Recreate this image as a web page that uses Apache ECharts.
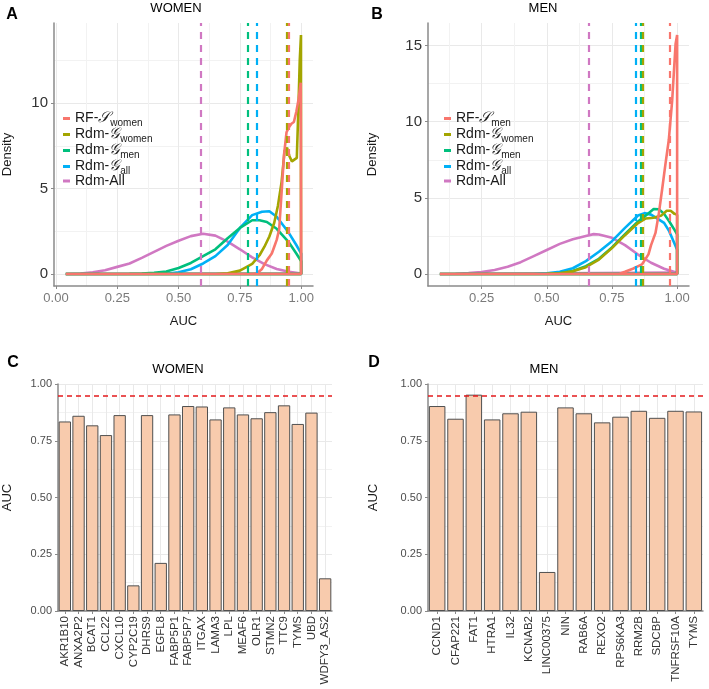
<!DOCTYPE html>
<html><head><meta charset="utf-8">
<script src="https://cdn.jsdelivr.net/npm/echarts@6/dist/echarts.min.js"></script>
<style>html,body{margin:0;padding:0;background:#fff}#c{width:709px;height:689px}</style>
</head><body><div id="c"></div>
<script>
// ---------- Panel A (WOMEN) density curves ----------
const womenRF_x  = [0.04,0.80,0.82,0.84,0.86,0.88,0.89,0.90,0.91,0.92,0.93,0.94,0.95,0.96,0.97,0.98,0.99,0.998,1.0];
const womenRF_y  = [0,0,0.05,0.3,0.8,1.2,1.6,2.0,2.6,4.8,7.0,8.3,8.6,8.8,8.9,9.5,10.3,11.2,11.2];
const womenGw_x  = [0.04,0.65,0.70,0.75,0.80,0.83,0.85,0.87,0.89,0.905,0.92,0.932,0.942,0.952,0.962,0.972,0.982,0.988,0.994,0.999];
const womenGw_y  = [0,0,0.05,0.2,0.6,1.1,1.6,2.2,3.0,4.0,5.4,7.2,7.4,6.9,6.6,6.7,6.8,9.5,12.5,14.0];
const womenGm_x  = [0.04,0.30,0.35,0.40,0.45,0.50,0.55,0.60,0.65,0.70,0.75,0.80,0.83,0.86,0.90,0.95,0.98,1.0];
const womenGm_y  = [0,0.01,0.03,0.07,0.15,0.35,0.65,1.05,1.45,2.1,2.7,3.15,3.15,3.05,2.65,1.85,1.2,0.75];
const womenGa_x  = [0.04,0.40,0.45,0.50,0.55,0.60,0.65,0.70,0.75,0.80,0.84,0.87,0.90,0.95,0.98,1.0];
const womenGa_y  = [0,0,0.02,0.1,0.28,0.62,1.05,1.7,2.7,3.45,3.65,3.68,3.35,2.4,1.7,1.2];
const womenAll_x = [0.04,0.10,0.15,0.20,0.25,0.30,0.35,0.40,0.45,0.50,0.55,0.60,0.65,0.70,0.75,0.80,0.85,0.90,0.95,1.0];
const womenAll_y = [0,0.03,0.1,0.22,0.42,0.62,0.95,1.3,1.65,1.95,2.22,2.36,2.25,1.9,1.45,0.98,0.58,0.3,0.13,0.03];
const womenMeans = [0.955, 0.938, 0.777, 0.816, 0.587]; // RF, Gw, Gm, Ga, All

// ---------- Panel B (MEN) density curves ----------
const menRF_x  = [0.09,0.76,0.78,0.80,0.83,0.865,0.89,0.90,0.917,0.93,0.942,0.955,0.968,0.981,0.994,1.0];
const menRF_y  = [0,0,0.02,0.15,0.35,0.63,1.29,1.9,2.7,4.0,5.5,7.2,8.8,11.4,15.1,15.7];
const menGw_x  = [0.09,0.50,0.55,0.60,0.65,0.70,0.75,0.80,0.85,0.88,0.91,0.94,0.96,0.975,0.99,1.0];
const menGw_y  = [0,0.02,0.05,0.18,0.45,0.95,1.7,2.55,3.35,3.65,3.7,3.85,4.15,4.15,3.95,3.9];
const menGm_x  = [0.09,0.50,0.55,0.60,0.65,0.70,0.75,0.80,0.85,0.88,0.91,0.93,0.95,0.97,0.99,1.0];
const menGm_y  = [0,0.02,0.06,0.2,0.52,1.0,1.75,2.62,3.45,3.85,4.27,4.25,3.95,3.45,2.9,2.6];
const menGa_x  = [0.09,0.45,0.50,0.55,0.60,0.65,0.70,0.75,0.80,0.85,0.875,0.90,0.95,0.97,1.0];
const menGa_y  = [0,0,0.05,0.15,0.38,0.85,1.46,2.16,3.03,3.84,4.0,3.9,3.36,2.8,1.6];
const menAll_x = [0.09,0.15,0.20,0.25,0.30,0.35,0.40,0.45,0.50,0.55,0.60,0.65,0.68,0.70,0.75,0.80,0.85,0.90,0.95,1.0];
const menAll_y = [0,0.02,0.06,0.13,0.27,0.48,0.78,1.18,1.58,1.98,2.28,2.5,2.62,2.6,2.38,1.9,1.28,0.74,0.35,0.09];
const menMeans = [0.969, 0.873, 0.864, 0.84, 0.655];

// ---------- Panels C / D bars ----------
const genesWomen = ['AKR1B10','ANXA2P2','BCAT1','CCL22','CXCL10','CYP2C19','DHRS9','EGFL8','FABP5P1','FABP5P7','ITGAX','LAMA3','LPL','MEAF6','OLR1','STMN2','TTC9','TYMS','UBD','WDFY3_AS2'];
const aucWomen   = [0.835,0.86,0.818,0.775,0.863,0.113,0.863,0.212,0.866,0.903,0.901,0.844,0.897,0.866,0.849,0.876,0.906,0.824,0.874,0.144];
const genesMen   = ['CCND1','CFAP221','FAT1','HTRA1','IL32','KCNAB2','LINC00375','NIN','RAB6A','REXO2','RPS6KA3','RRM2B','SDCBP','TNFRSF10A','TYMS'];
const aucMen     = [0.903,0.847,0.953,0.844,0.871,0.878,0.172,0.897,0.871,0.831,0.856,0.882,0.851,0.882,0.879];
const rfThreshold = 0.95;

// ---------- tick labels ----------
const ticksA_x = [0, 0.25, 0.5, 0.75, 1.0];
const ticksB_x = [0.25, 0.5, 0.75, 1.0];
const minorX = [0.125, 0.375, 0.625, 0.875];
const ticksA_y = [0, 5, 10];
const ticksB_y = [0, 5, 10, 15];
const minorA_y = [2.5, 7.5, 12.5];
const minorB_y = [2.5, 7.5, 12.5];

const COLORS = ['#F8766D', '#A3A500', '#00BF7D', '#00B0F6', '#D078C2'];
const KEYS_A = ['RF-Sw','Rdm-Gw','Rdm-Gm','Rdm-Ga','Rdm-All'];
const KEYS_B = ['RF-Sm','Rdm-Gw','Rdm-Gm','Rdm-Ga','Rdm-All'];
const legendText = {
  'RF-Sw': 'RF-{s|𝒮}{b|women}',
  'RF-Sm': 'RF-{s|𝒮}{b|men}',
  'Rdm-Gw': 'Rdm-{s|𝒢}{b|women}',
  'Rdm-Gm': 'Rdm-{s|𝒢}{b|men}',
  'Rdm-Ga': 'Rdm-{s|𝒢}{b|all}',
  'Rdm-All': 'Rdm-All'
};

const FONT = 'Liberation Sans, Arial, Helvetica, sans-serif';
const AXIS_GREY = '#8a8a8a';
const GRID_MAJOR = '#e9e9e9';
const GRID_MINOR = '#f2f2f2';

function densSeries(name, xs, ys, color, mean, gi) {
  const data = xs.map((x, i) => [x, ys[i]]);
  data.push([xs[xs.length - 1], 0]);
  data.push([xs[0], 0]);
  return {
    type: 'line', name, xAxisIndex: gi, yAxisIndex: gi, data,
    symbol: 'none', showSymbol: false, smooth: false, animation: false,
    lineStyle: { color, width: 2.6 }, itemStyle: { color },
    markLine: {
      silent: true, symbol: ['none', 'none'], animation: false,
      label: { show: false },
      lineStyle: { color, width: 2.2, type: [7, 6] },
      data: [{ xAxis: mean }]
    }
  };
}

function mainValueAxis(gi, min, max, ticks, fmt, labelColor, fontSize, extra) {
  return Object.assign({
    type: 'value', gridIndex: gi, min, max,
    axisLine: { show: true, onZero: false, lineStyle: { color: AXIS_GREY, width: 1.5 } },
    axisTick: { show: true, length: 3, customValues: ticks, lineStyle: { color: AXIS_GREY } },
    axisLabel: { customValues: ticks, formatter: fmt, color: labelColor, fontSize, fontFamily: FONT, margin: 6 },
    splitLine: { show: true, lineStyle: { color: GRID_MAJOR, width: 1 } },
    nameTextStyle: { color: '#1a1a1a', fontSize: 13, fontFamily: FONT }
  }, extra || {});
}
function minorAxis(gi, min, max, ticks, pos) {
  return {
    type: 'value', gridIndex: gi, min, max, position: pos,
    axisLine: { show: false }, axisLabel: { show: false },
    axisTick: { show: false, customValues: ticks },
    splitLine: { show: true, lineStyle: { color: GRID_MINOR, width: 1 } }
  };
}
function catAxis(gi, cats) {
  return {
    type: 'category', gridIndex: gi, data: cats,
    axisLine: { show: true, lineStyle: { color: AXIS_GREY, width: 1.5 } },
    axisTick: { show: true, alignWithLabel: true, length: 3, lineStyle: { color: AXIS_GREY } },
    axisLabel: { rotate: 90, interval: 0, fontSize: 11.5, color: '#333', fontFamily: FONT, margin: 5 },
    splitLine: { show: true, alignWithLabel: true, lineStyle: { color: GRID_MAJOR } }
  };
}
function barValAxis(gi, gap) {
  return {
    type: 'value', gridIndex: gi, min: 0, max: 1, interval: 0.25,
    name: 'AUC', nameLocation: 'middle', nameGap: gap,
    nameTextStyle: { color: '#1a1a1a', fontSize: 13, fontFamily: FONT },
    axisLine: { show: true, lineStyle: { color: AXIS_GREY, width: 1.5 } },
    axisTick: { show: true, length: 3, lineStyle: { color: AXIS_GREY } },
    axisLabel: { formatter: v => v.toFixed(2), color: '#4d4d4d', fontSize: 11, fontFamily: FONT, margin: 6 },
    splitLine: { show: true, lineStyle: { color: GRID_MAJOR } },
    minorTick: { show: false, splitNumber: 2 },
    minorSplitLine: { show: true, lineStyle: { color: GRID_MINOR } }
  };
}
function barSeries(gi, vals) {
  return {
    type: 'bar', xAxisIndex: gi, yAxisIndex: gi, data: vals, barWidth: '90%', animation: false,
    itemStyle: { color: '#F8CBAD', borderColor: '#505050', borderWidth: 1 },
    markLine: {
      silent: true, symbol: ['none', 'none'], animation: false, z: 10,
      label: { show: false },
      lineStyle: { color: '#E41A1C', width: 1.6, type: [5, 4] },
      data: [{ yAxis: rfThreshold }]
    }
  };
}

const fmt2 = v => v.toFixed(2);
const fmt0 = v => String(Math.round(v));

function legendFor(keys, left) {
  return {
    data: keys, orient: 'vertical', left, top: 109, padding: 0, itemGap: -3,
    itemWidth: 7, itemHeight: 3, icon: 'rect', selectedMode: false,
    formatter: n => legendText[n],
    textStyle: {
      fontSize: 14, color: '#1a1a1a', fontFamily: FONT, lineHeight: 16,
      rich: {
        s: { fontSize: 15, fontFamily: 'DejaVu Serif, serif', fontStyle: 'italic', lineHeight: 16, color: '#1a1a1a' },
        b: { fontSize: 10, lineHeight: 16, padding: [9, 0, 0, 0], color: '#1a1a1a', fontFamily: FONT }
      }
    }
  };
}

const seriesA = [4, 3, 2, 1, 0].map(i => densSeries(KEYS_A[i], [womenRF_x, womenGw_x, womenGm_x, womenGa_x, womenAll_x][i], [womenRF_y, womenGw_y, womenGm_y, womenGa_y, womenAll_y][i], COLORS[i], womenMeans[i], 0));
const seriesB = [4, 3, 2, 1, 0].map(i => densSeries(KEYS_B[i], [menRF_x, menGw_x, menGm_x, menGa_x, menAll_x][i], [menRF_y, menGw_y, menGm_y, menGa_y, menAll_y][i], COLORS[i], menMeans[i], 1));

function txt(text, x, y, size, weight, rot) {
  return { type: 'text', x, y, rotation: rot || 0, silent: true,
    style: { text, font: (weight || 'normal') + ' ' + size + 'px ' + FONT, fill: '#000',
      textAlign: 'center', textVerticalAlign: 'middle', align: 'center', verticalAlign: 'middle' } };
}

const chart = echarts.init(document.getElementById('c'), null, { renderer: 'canvas' });
chart.setOption({
  animation: false,
  backgroundColor: '#fff',
  grid: [
    { left: 53, top: 23, width: 260, height: 263 },
    { left: 428, top: 23, width: 261, height: 263 },
    { left: 57, top: 384, width: 275, height: 227 },
    { left: 428, top: 384, width: 275, height: 227 }
  ],
  xAxis: [
    mainValueAxis(0, -0.008, 1.048, ticksA_x, fmt2, '#7a7a7a', 13, { name: 'AUC', nameLocation: 'middle', nameGap: 29 }),
    mainValueAxis(1, 0.0445, 1.0455, ticksB_x, fmt2, '#7a7a7a', 13, { name: 'AUC', nameLocation: 'middle', nameGap: 29 }),
    catAxis(2, genesWomen),
    catAxis(3, genesMen),
    minorAxis(0, -0.008, 1.048, minorX, 'top'),
    minorAxis(1, 0.0445, 1.0455, minorX, 'top')
  ],
  yAxis: [
    mainValueAxis(0, -0.7, 14.7, ticksA_y, fmt0, '#333', 15, { name: 'Density', nameLocation: 'middle', nameGap: 40 }),
    mainValueAxis(1, -0.785, 16.48, ticksB_y, fmt0, '#333', 15, { name: 'Density', nameLocation: 'middle', nameGap: 49 }),
    barValAxis(2, 44),
    barValAxis(3, 48),
    minorAxis(0, -0.7, 14.7, minorA_y, 'right'),
    minorAxis(1, -0.785, 16.48, minorB_y, 'right')
  ],
  legend: [legendFor(KEYS_A, 63), legendFor(KEYS_B, 444)],
  series: [...seriesA, ...seriesB, barSeries(2, aucWomen), barSeries(3, aucMen)],
  graphic: [
    txt('A', 12, 15, 16, 'bold'),
    txt('B', 377, 15, 16, 'bold'),
    txt('C', 13, 363, 16, 'bold'),
    txt('D', 374, 363, 16, 'bold'),
    txt('WOMEN', 176, 8, 13),
    txt('MEN', 543, 8, 13),
    txt('WOMEN', 178, 369, 13),
    txt('MEN', 544, 369, 13)
  ]
});
</script></body></html>
